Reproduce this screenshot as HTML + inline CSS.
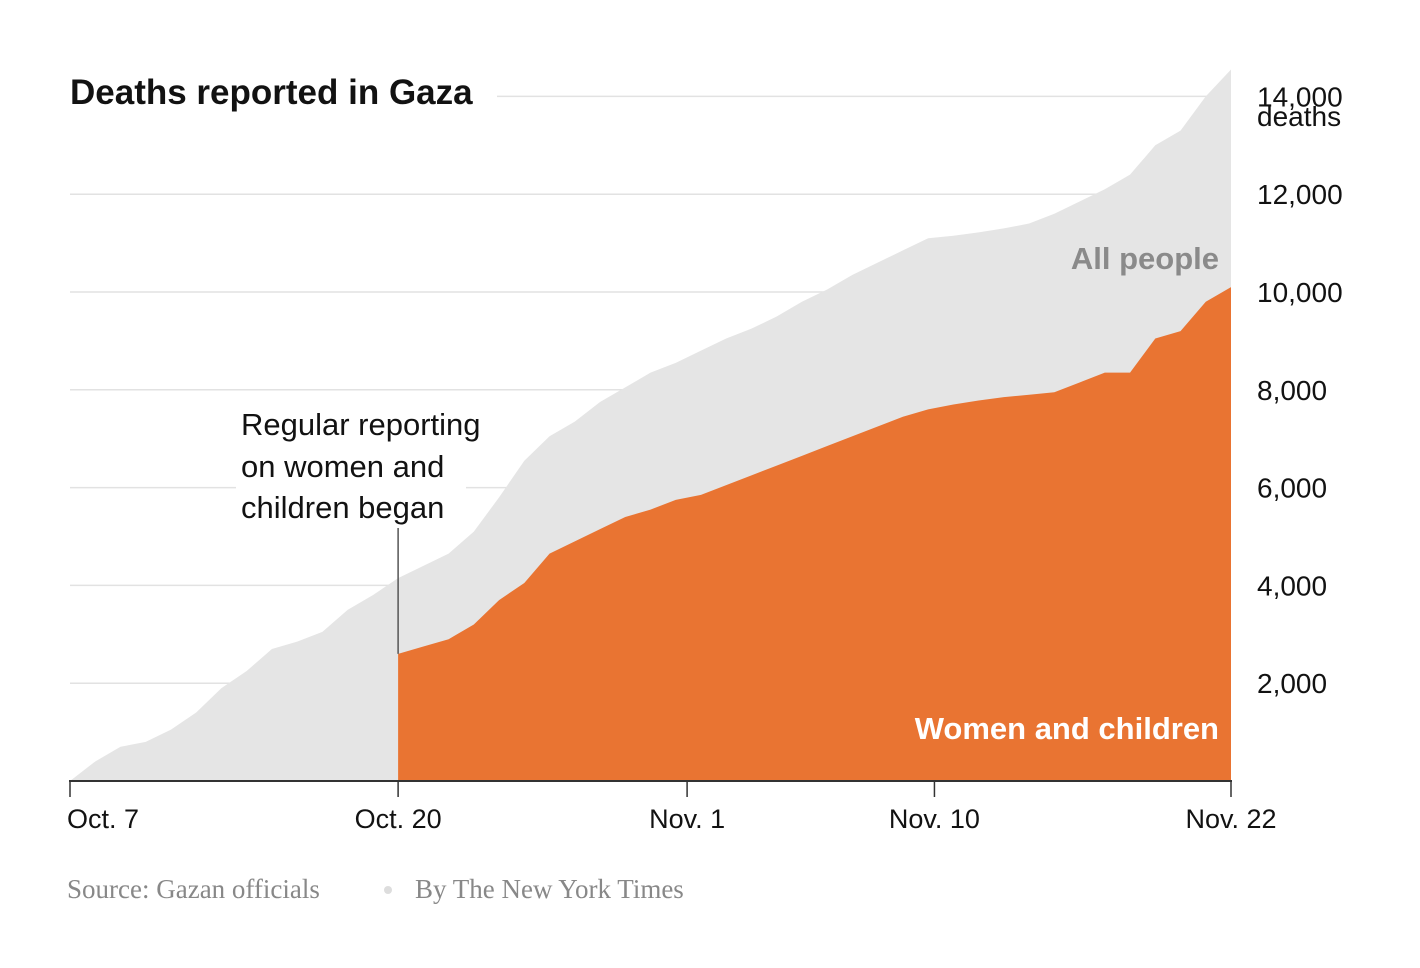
<!DOCTYPE html>
<html><head><meta charset="utf-8"><style>
body{margin:0;background:#fff;}
svg text{font-family:"Liberation Sans",sans-serif;}
</style></head><body>
<svg id="chart" width="1420" height="963" viewBox="0 0 1420 963" xmlns="http://www.w3.org/2000/svg">
<rect width="1420" height="963" fill="#fff"/>
<g id="grid"></g>
<g id="areas"></g>
<g id="axis"></g>
<text x="70" y="104" font-size="35" font-weight="bold" fill="#121212">Deaths reported in Gaza</text>
<text x="1219" y="269" font-size="31" font-weight="bold" fill="#8a8a8a" text-anchor="end">All people</text>
<text x="1219" y="739" font-size="31" font-weight="bold" fill="#fff" text-anchor="end">Women and children</text>
<g font-size="31" fill="#121212">
<rect x="236" y="400" width="230" height="126" fill="#fff"/>
<text x="241" y="435">Regular reporting</text>
<text x="241" y="477">on women and</text>
<text x="241" y="518">children began</text>
</g>
<text x="1257" y="126" font-size="28" fill="#121212">deaths</text>
<text x="67" y="898" font-size="27" fill="#888" font-family="Liberation Serif, serif" style="font-family:'Liberation Serif',serif">Source: Gazan officials</text>
<circle cx="388" cy="890" r="4" fill="#ddd"/>
<text x="415" y="898" font-size="27" fill="#888" style="font-family:'Liberation Serif',serif">By The New York Times</text>
</svg>
<script>
const allPeople=[0,400,700,800,1050,1400,1900,2250,2700,2850,3050,3500,3800,4150,4400,4650,5100,5800,6550,7050,7350,7750,8050,8350,8550,8800,9050,9250,9500,9800,10050,10350,10600,10850,11100,11150,11220,11300,11400,11600,11850,12100,12400,13000,13300,14000,14550];
const womenStart=13;
const womenChildren=[2600,2750,2900,3200,3700,4050,4650,4900,5150,5400,5550,5750,5850,6050,6250,6450,6650,6850,7050,7250,7450,7600,7700,7780,7850,7900,7950,8150,8350,8350,9050,9200,9800,10100];
const yTicks=[2000,4000,6000,8000,10000,12000,14000];
const yTickLabels=["2,000","4,000","6,000","8,000","10,000","12,000","14,000"];
const xTicks=[0,13,24.45,34.25,46];
const xTickLabels=["Oct. 7","Oct. 20","Nov. 1","Nov. 10","Nov. 22"];
const NS="http://www.w3.org/2000/svg";
const x=i=>70+i*(1231-70)/46;
const y=v=>781-v*(781-292)/10000;
function mk(tag,attrs,parent){const e=document.createElementNS(NS,tag);for(const k in attrs)e.setAttribute(k,attrs[k]);parent.appendChild(e);return e;}
const grid=document.getElementById('grid'),areas=document.getElementById('areas'),axis=document.getElementById('axis');
yTicks.forEach((t,i)=>{
  const x1=t===14000?497:70;
  const l=mk('line',{x1:x1,x2:1231,y1:y(t),y2:y(t),stroke:'#e2e2e2','stroke-width':1.5},grid);
  
  
  const tx=mk('text',{x:1257,y:y(t)+10,'font-size':28,fill:'#121212'},axis);
  tx.textContent=yTickLabels[i];
  
  
});
let d='M'+x(0)+','+y(0);
allPeople.forEach((v,i)=>{d+=' L'+x(i)+','+y(v);});
d+=' L'+x(allPeople.length-1)+','+y(0)+' Z';
const a1=mk('path',{d:d,fill:'#e5e5e5'},areas);


let d2='M'+x(womenStart)+','+y(0);
womenChildren.forEach((v,i)=>{d2+=' L'+x(womenStart+i)+','+y(v);});
d2+=' L'+x(womenStart+womenChildren.length-1)+','+y(0)+' Z';
const a2=mk('path',{d:d2,fill:'#e97432'},areas);


const ann=mk('line',{x1:x(womenStart),x2:x(womenStart),y1:528,y2:y(womenChildren[0]),stroke:'#555','stroke-width':1.5},areas);


const base=mk('line',{x1:69,x2:1232,y1:781,y2:781,stroke:'#333','stroke-width':2},axis);


xTicks.forEach((t,i)=>{
  const tk=mk('line',{x1:x(t),x2:x(t),y1:781,y2:797,stroke:'#333','stroke-width':1.5},axis);
  
  
  const anchor=i===0?'start':'middle';
  const tx=mk('text',{x:i===0?x(t)-3:x(t),y:828,'font-size':27,fill:'#121212','text-anchor':anchor},axis);
  tx.textContent=xTickLabels[i];
  
  
});
</script>
</body></html>
